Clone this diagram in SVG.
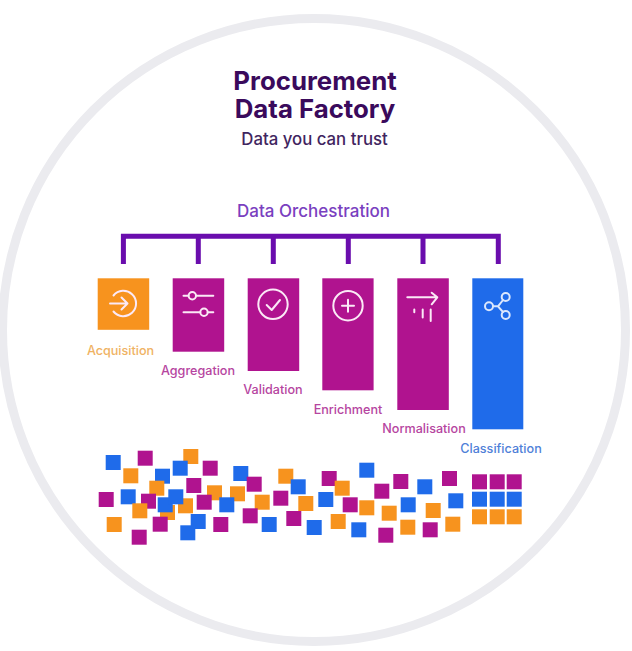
<svg xmlns="http://www.w3.org/2000/svg" width="632" height="651" viewBox="0 0 632 651">
<style>
text{font-family:"Inter","Noto Sans","Liberation Sans",sans-serif;text-anchor:middle}
.t{font-size:25.800px;font-weight:700;fill:#3a0a5c}
.s{font-size:16.800px;font-weight:500;fill:#3f2560}
.o{font-size:17px;font-weight:500;fill:#7a3fc0}
.l{font-size:12.600px;font-weight:500}
.lo{fill:#efb263}.lp{fill:#b6459f}.lb{fill:#4f80d8}
.O{fill:#f7931e}.P{fill:#b0138f}.B{fill:#1f6bea}
.i{fill:none;stroke:#fbe9f6;stroke-width:2;stroke-linecap:round;stroke-linejoin:round}
.c{fill:none;stroke:#6a0dad;stroke-width:5}
</style>
<defs>
<rect id="q" width="15" height="15"/>
</defs>
<circle id="ring" cx="314" cy="330" r="311.5" fill="#fff" stroke="#ebebef" stroke-width="9"/>
<g id="title">
<text class="t" x="315" y="90">Procurement</text>
<text class="t" x="315" y="118">Data Factory</text>
<text class="s" x="314.500" y="145">Data you can trust</text>
</g>
<g id="connectors">
<text class="o" x="313.500" y="217">Data Orchestration</text>
<path class="c" d="M123.400 264V236.300H498.300V264M198.300 236.300V264M273.300 236.300V264M348.300 236.300V264M423 236.300V264"/>
</g>
<g id="acquisition">
<rect class="O" x="97.700" y="278.300" width="51.500" height="51.500"/>
<path class="i" d="M113.500 295.500A12.700 12.700 0 1 1 113.500 311.500M110 303.500H127.500M121.500 297.500L127.500 303.500L121.500 309.500"/>
<text class="l lo" x="120.500" y="355">Acquisition</text>
</g>
<g id="aggregation">
<rect class="P" x="172.700" y="278.300" width="51.500" height="73.400"/>
<path class="i" d="M183.500 295.700H188.500M196 295.700H213.300M183.500 312.300H200.300M207.700 312.300H213.300"/>
<circle class="i" cx="192.300" cy="295.700" r="3.700"/><circle class="i" cx="204" cy="312.300" r="3.700"/>
<text class="l lp" x="198" y="374.500">Aggregation</text>
</g>
<g id="validation">
<rect class="P" x="247.700" y="278.300" width="51.500" height="92.700"/>
<circle class="i" cx="273" cy="304.300" r="14.700"/>
<path class="i" d="M266.700 305L271.700 310L280 300"/>
<text class="l lp" x="273" y="394">Validation</text>
</g>
<g id="enrichment">
<rect class="P" x="322.300" y="278.300" width="51.300" height="112"/>
<circle class="i" cx="348" cy="305.700" r="14.700"/>
<path class="i" d="M342 305.700H354M348 299.700V311.700"/>
<text class="l lp" x="348" y="413.500">Enrichment</text>
</g>
<g id="normalisation">
<rect class="P" x="397.300" y="278.300" width="51.500" height="131.700"/>
<path class="i" d="M407.300 297.300H437.300M431.700 292.700L437.300 297.300L431.700 304.300M414.300 309.500V312.300M422.700 309.500V317.500M430.700 309.500V321"/>
<text class="l lp" x="424" y="433">Normalisation</text>
</g>
<g id="classification">
<rect class="B" x="472.300" y="278.300" width="51" height="151"/>
<g class="i" style="stroke:#dbe7fd">
<circle cx="489" cy="306.300" r="4"/><circle cx="505.700" cy="297" r="4"/><circle cx="505.700" cy="315" r="4"/>
<path d="M493 306.300H498M498 306.300L503 300M498 306.300L503 312"/>
</g>
<text class="l lb" x="501" y="452.500">Classification</text>
</g>
<g id="scattered-data">
<use href="#q" class="B" x="105.700" y="455"/>
<use href="#q" class="P" x="137.700" y="450.700"/>
<use href="#q" class="O" x="183.300" y="449"/>
<use href="#q" class="O" x="123.300" y="468.300"/>
<use href="#q" class="B" x="155" y="468.700"/>
<use href="#q" class="B" x="172.700" y="460.700"/>
<use href="#q" class="P" x="202.700" y="460.700"/>
<use href="#q" class="B" x="233.300" y="466"/>
<use href="#q" class="P" x="246.700" y="476.700"/>
<use href="#q" class="O" x="278.300" y="468.700"/>
<use href="#q" class="B" x="290.700" y="479.300"/>
<use href="#q" class="O" x="149.300" y="480.700"/>
<use href="#q" class="P" x="186.300" y="478"/>
<use href="#q" class="P" x="98.700" y="492"/>
<use href="#q" class="B" x="120.700" y="489.300"/>
<use href="#q" class="O" x="160" y="505"/>
<use href="#q" class="P" x="141" y="493.700"/>
<use href="#q" class="O" x="132.300" y="503.300"/>
<use href="#q" class="O" x="178" y="498.300"/>
<use href="#q" class="B" x="157.700" y="497.300"/>
<use href="#q" class="B" x="168.300" y="489.300"/>
<use href="#q" class="O" x="207" y="485.300"/>
<use href="#q" class="O" x="230" y="486.300"/>
<use href="#q" class="P" x="196.700" y="494.700"/>
<use href="#q" class="B" x="219.300" y="497.300"/>
<use href="#q" class="O" x="254.700" y="494.700"/>
<use href="#q" class="P" x="273.300" y="490.700"/>
<use href="#q" class="O" x="298.300" y="496"/>
<use href="#q" class="B" x="318.300" y="492"/>
<use href="#q" class="P" x="242.700" y="508.300"/>
<use href="#q" class="O" x="106.700" y="517"/>
<use href="#q" class="P" x="152.700" y="516.700"/>
<use href="#q" class="B" x="190.700" y="514"/>
<use href="#q" class="P" x="213.300" y="517"/>
<use href="#q" class="B" x="261.700" y="517"/>
<use href="#q" class="P" x="286.300" y="511"/>
<use href="#q" class="B" x="306.700" y="520"/>
<use href="#q" class="B" x="180.300" y="525.300"/>
<use href="#q" class="P" x="131.700" y="529.700"/>
<use href="#q" class="P" x="321.700" y="471"/>
<use href="#q" class="O" x="334.700" y="480.700"/>
<use href="#q" class="B" x="359.300" y="462.700"/>
<use href="#q" class="P" x="393.300" y="474"/>
<use href="#q" class="P" x="374.300" y="483.700"/>
<use href="#q" class="B" x="417.300" y="479.300"/>
<use href="#q" class="P" x="442" y="471"/>
<use href="#q" class="P" x="342.700" y="497.300"/>
<use href="#q" class="O" x="359.300" y="500.300"/>
<use href="#q" class="O" x="381.700" y="505.700"/>
<use href="#q" class="B" x="400.700" y="497.300"/>
<use href="#q" class="O" x="425.700" y="503"/>
<use href="#q" class="B" x="448.300" y="493.300"/>
<use href="#q" class="O" x="330.700" y="514"/>
<use href="#q" class="B" x="351.300" y="522.300"/>
<use href="#q" class="P" x="378.300" y="527.700"/>
<use href="#q" class="O" x="400.300" y="519.700"/>
<use href="#q" class="P" x="422.700" y="522.300"/>
<use href="#q" class="O" x="445.300" y="516.700"/>
</g>
<g id="sorted-data">
<use href="#q" class="P" x="472" y="474.300"/><use href="#q" class="P" x="489.700" y="474.300"/><use href="#q" class="P" x="506.700" y="474.300"/>
<use href="#q" class="B" x="472" y="491.700"/><use href="#q" class="B" x="489.700" y="491.700"/><use href="#q" class="B" x="506.700" y="491.700"/>
<use href="#q" class="O" x="472" y="509.300"/><use href="#q" class="O" x="489.700" y="509.300"/><use href="#q" class="O" x="506.700" y="509.300"/>
</g>
</svg>
